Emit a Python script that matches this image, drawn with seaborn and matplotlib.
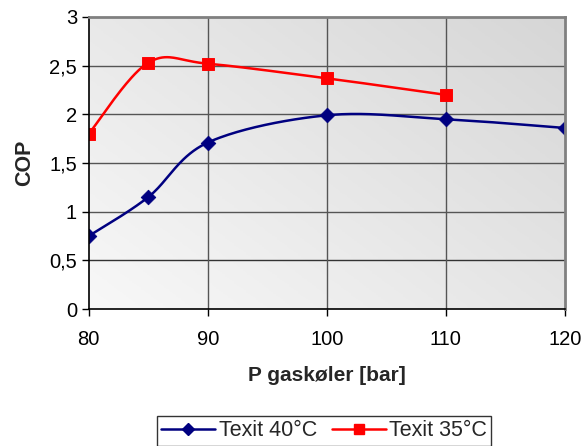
import numpy as np
import pandas as pd
import matplotlib
matplotlib.use("Agg")
import matplotlib.pyplot as plt
from matplotlib.lines import Line2D
import seaborn as sns

# Data
p_40 = [80, 85, 90, 100, 110, 120]
cop_40 = [0.75, 1.15, 1.71, 1.99, 1.95, 1.86]
p_35 = [80, 85, 90, 100, 110]
cop_35 = [1.80, 2.53, 2.52, 2.37, 2.20]
series_names = ["Texit 40°C", "Texit 35°C"]
x_ticks = [80, 90, 100, 110, 120]
y_ticks = [0, 0.5, 1, 1.5, 2, 2.5, 3]
y_tick_labels = ["0", "0,5", "1", "1,5", "2", "2,5", "3"]


def smooth(xs, ys, n=40):
    """Cubic Bezier smoothing with Catmull-Rom style control points."""
    pts = np.column_stack([xs, ys]).astype(float)
    ext = np.vstack([pts[0], pts, pts[-1]])
    out = []
    t = np.linspace(0, 1, n)[:, None]
    for i in range(len(pts) - 1):
        p0, p1, p2, p3 = ext[i], ext[i + 1], ext[i + 2], ext[i + 3]
        b1 = p1 + (p2 - p0) / 6
        b2 = p2 - (p3 - p1) / 6
        seg = ((1 - t) ** 3) * p1 + 3 * ((1 - t) ** 2) * t * b1 + 3 * (1 - t) * t ** 2 * b2 + t ** 3 * p2
        out.append(seg if i == 0 else seg[1:])
    seg = np.vstack(out)
    return seg[:, 0], seg[:, 1]


sns.set_theme(style="white")
plt.rcParams["font.family"] = ["Liberation Sans", "DejaVu Sans"]

fig = plt.figure(figsize=(5.84, 4.46), dpi=100)
ax = fig.add_axes([0.152, 0.307, 0.815, 0.655])

# gradient plot-area background
gx, gy = np.meshgrid(np.linspace(0, 1, 200), np.linspace(0, 1, 200))
grad = (gx * 0.55 + gy * 0.45)
ax.imshow(grad, extent=[80, 120, 0, 3], origin="lower", aspect="auto",
          cmap=matplotlib.colors.LinearSegmentedColormap.from_list("bg", ["#f8f8f8", "#d6d6d6"]),
          zorder=0)

# grid lines
for yv in y_ticks[1:-1]:
    ax.axhline(yv, color="#333333" if yv == 0.5 else "#555555", lw=1.0, zorder=1)
for xv in x_ticks[1:-1]:
    ax.axvline(xv, color="#555555", lw=1.0, zorder=1)

sx, sy = smooth(p_40, cop_40)
df40 = pd.DataFrame({"x": sx, "y": sy})
sns.lineplot(data=df40, x="x", y="y", sort=False, color="#000080", lw=1.8, ax=ax, zorder=3)
sns.scatterplot(x=p_40, y=cop_40, marker="D", s=55, color="#000080", edgecolor="#000080", ax=ax, zorder=4)

sx, sy = smooth(p_35, cop_35)
df35 = pd.DataFrame({"x": sx, "y": sy})
sns.lineplot(data=df35, x="x", y="y", sort=False, color="#ff0000", lw=1.8, ax=ax, zorder=3)
sns.scatterplot(x=p_35, y=cop_35, marker="s", s=70, color="#ff0000", edgecolor="#ff0000", ax=ax, zorder=4)

ax.set_xlim(80, 120)
ax.set_ylim(0, 3)
ax.set_xticks(x_ticks)
ax.set_yticks(y_ticks)
ax.set_yticklabels(y_tick_labels)
ax.tick_params(axis="both", labelsize=14.5, colors="black", length=5, width=1, direction="out",
               left=True, bottom=True)
ax.tick_params(axis="x", pad=10)
ax.set_xlabel("P gaskøler [bar]", fontsize=15, fontweight="bold", labelpad=12)
ax.set_ylabel("COP", fontsize=15.5, fontweight="bold", labelpad=10)

for side in ["top", "right"]:
    ax.spines[side].set_color("#808080")
    ax.spines[side].set_linewidth(2)
for side in ["left", "bottom"]:
    ax.spines[side].set_color("black")
    ax.spines[side].set_linewidth(1.2)
for s in ax.spines.values():
    s.set_visible(True)
    s.set_zorder(5)

handles = [
    Line2D([], [], color="#000080", lw=1.8, marker="D", markersize=6),
    Line2D([], [], color="#ff0000", lw=1.8, marker="s", markersize=7),
]
leg = fig.legend(handles, series_names, loc="upper center", bbox_to_anchor=(0.555, 0.072),
                 ncol=2, fontsize=15.5, frameon=True, fancybox=False, handlelength=2.5,
                 handletextpad=0.15, columnspacing=0.7, borderpad=0.2, borderaxespad=0.1)
leg.get_frame().set_edgecolor("black")
leg.get_frame().set_linewidth(1.0)

fig.savefig("out.png", dpi=100, facecolor="white")
